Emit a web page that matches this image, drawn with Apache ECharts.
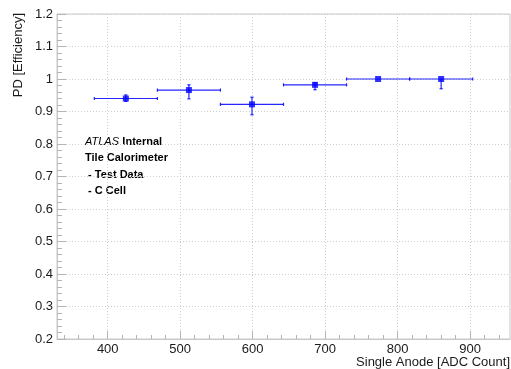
<!DOCTYPE html>
<html><head><meta charset="utf-8">
<script src="https://cdn.jsdelivr.net/npm/echarts@6/dist/echarts.min.js"></script>
<style>html,body{margin:0;padding:0;background:#fff}#c{width:511px;height:369px}</style>
</head><body><div id="c"></div>
<script>
// ---- data ----
const binCenters = [425, 512, 599, 686, 773, 860];
const binLow     = [381.5, 468.5, 555.5, 642.5, 729.5, 816.5];
const binHigh    = [468.5, 555.5, 642.5, 729.5, 816.5, 903.5];
const efficiency = [0.940, 0.966, 0.922, 0.982, 1.000, 1.000];
const errUp      = [0.011, 0.016, 0.022, 0.007, 0.000, 0.000];
const errDown    = [0.009, 0.027, 0.032, 0.015, 0.000, 0.030];
const xMajorTicks = [400, 500, 600, 700, 800, 900];
const xMinorTicks = [340, 360, 380, 400, 420, 440, 460, 480, 500, 520, 540, 560, 580, 600, 620, 640, 660, 680, 700, 720, 740, 760, 780, 800, 820, 840, 860, 880, 900, 920, 940];
const xTitle = 'Single Anode [ADC Count]';
const yTitle = 'PD [Efficiency]';
const annotation = ['Tile Calorimeter', ' - Test Data', ' - C Cell'];

const points = binCenters.map((x, i) => [x, efficiency[i], binLow[i], binHigh[i], errUp[i], errDown[i]]);

const FONT = '"Liberation Sans", Arial, Helvetica, sans-serif';
const BLUE = '#0000ff';
const FRAME = '#c8c8c8';

const chart = echarts.init(document.getElementById('c'), null, {renderer: 'canvas'});
chart.setOption({
  animation: false,
  backgroundColor: '#fff',
  grid: {left: 57, right: 1, top: 14, bottom: 30, show: true, borderColor: FRAME, borderWidth: 1, containLabel: false},
  xAxis: [{
    type: 'value', min: 330, max: 955, position: 'bottom',
    axisLine: {show: true, lineStyle: {color: FRAME, width: 1}},
    axisTick: {show: true, inside: true, length: 4, customValues: xMinorTicks, lineStyle: {color: '#b4b4b4'}},
    axisLabel: {show: true, customValues: xMajorTicks, fontSize: 13, color: '#1a1a1a', fontFamily: FONT, margin: 4},
    splitLine: {show: false}
  }, {
    type: 'value', min: 330, max: 955, position: 'bottom', offset: 0,
    axisLine: {show: false},
    axisTick: {show: true, inside: true, length: 8, customValues: xMajorTicks, lineStyle: {color: '#b4b4b4'}},
    axisLabel: {show: false, customValues: xMajorTicks},
    splitLine: {show: true, lineStyle: {color: '#cfcfcf', type: [1, 2], width: 1}}
  }],
  yAxis: {
    type: 'value', min: 0.2, max: 1.2, interval: 0.1,
    axisLine: {show: true, lineStyle: {color: FRAME}},
    axisTick: {show: true, inside: true, length: 9, lineStyle: {color: '#b4b4b4'}},
    minorTick: {show: true, splitNumber: 5, length: 5, lineStyle: {color: '#b4b4b4'}},
    axisLabel: {fontSize: 13, color: '#1a1a1a', fontFamily: FONT, margin: 4},
    splitLine: {show: true, lineStyle: {color: '#cfcfcf', type: [1, 2], width: 1}}
  },
  graphic: [
    {type: 'text', x: 510, y: 362, style: {text: xTitle, fontSize: 13, fontFamily: FONT, fill: '#1a1a1a', align: 'right', verticalAlign: 'middle'}},
    {type: 'text', x: 18, y: 13, rotation: Math.PI / 2, style: {text: yTitle, fontSize: 13, fontFamily: FONT, fill: '#1a1a1a', align: 'right', verticalAlign: 'middle'}},
    {type: 'text', x: 85, y: 142, style: {
      text: '{i|ATLAS} {b|Internal}', verticalAlign: 'middle', align: 'left',
      rich: {i: {fontStyle: 'italic', fontSize: 11, fontFamily: FONT, fill: '#000'}, b: {fontWeight: 'bold', fontSize: 11, fontFamily: FONT, fill: '#000'}}
    }},
    ...annotation.map((t, i) => ({type: 'text', x: 85, y: 158 + i * 16.5, style: {text: t, fontSize: 11, fontWeight: 'bold', fontFamily: FONT, fill: '#000', align: 'left', verticalAlign: 'middle'}}))
  ],
  series: [{
    type: 'custom', xAxisIndex: 0, yAxisIndex: 0, data: points, z: 3,
    renderItem: function (params, api) {
      const xc = api.value(0), y = api.value(1), xl = api.value(2), xh = api.value(3), eu = api.value(4), ed = api.value(5);
      const pL = api.coord([xl, y]), pH = api.coord([xh, y]);
      const pU = api.coord([xc, y + eu]), pD = api.coord([xc, y - ed]);
      const st = {stroke: BLUE, lineWidth: 1.2, opacity: 0.85};
      const cap = 1.6;
      const ch = [
        {type: 'line', shape: {x1: pL[0], y1: pL[1], x2: pH[0], y2: pH[1]}, style: st},
        {type: 'line', shape: {x1: pL[0], y1: pL[1] - cap, x2: pL[0], y2: pL[1] + cap}, style: st},
        {type: 'line', shape: {x1: pH[0], y1: pH[1] - cap, x2: pH[0], y2: pH[1] + cap}, style: st}
      ];
      if (eu > 0 || ed > 0) {
        ch.push({type: 'line', shape: {x1: pU[0], y1: pU[1], x2: pD[0], y2: pD[1]}, style: st});
        if (eu > 0) ch.push({type: 'line', shape: {x1: pU[0] - cap, y1: pU[1], x2: pU[0] + cap, y2: pU[1]}, style: st});
        if (ed > 0) ch.push({type: 'line', shape: {x1: pD[0] - cap, y1: pD[1], x2: pD[0] + cap, y2: pD[1]}, style: st});
      }
      return {type: 'group', children: ch};
    }
  }, {
    type: 'scatter', xAxisIndex: 0, yAxisIndex: 0, z: 4,
    data: binCenters.map((x, i) => [x, efficiency[i]]),
    symbol: 'rect', symbolSize: 6,
    itemStyle: {color: BLUE}
  }]
});
</script>
</body></html>
